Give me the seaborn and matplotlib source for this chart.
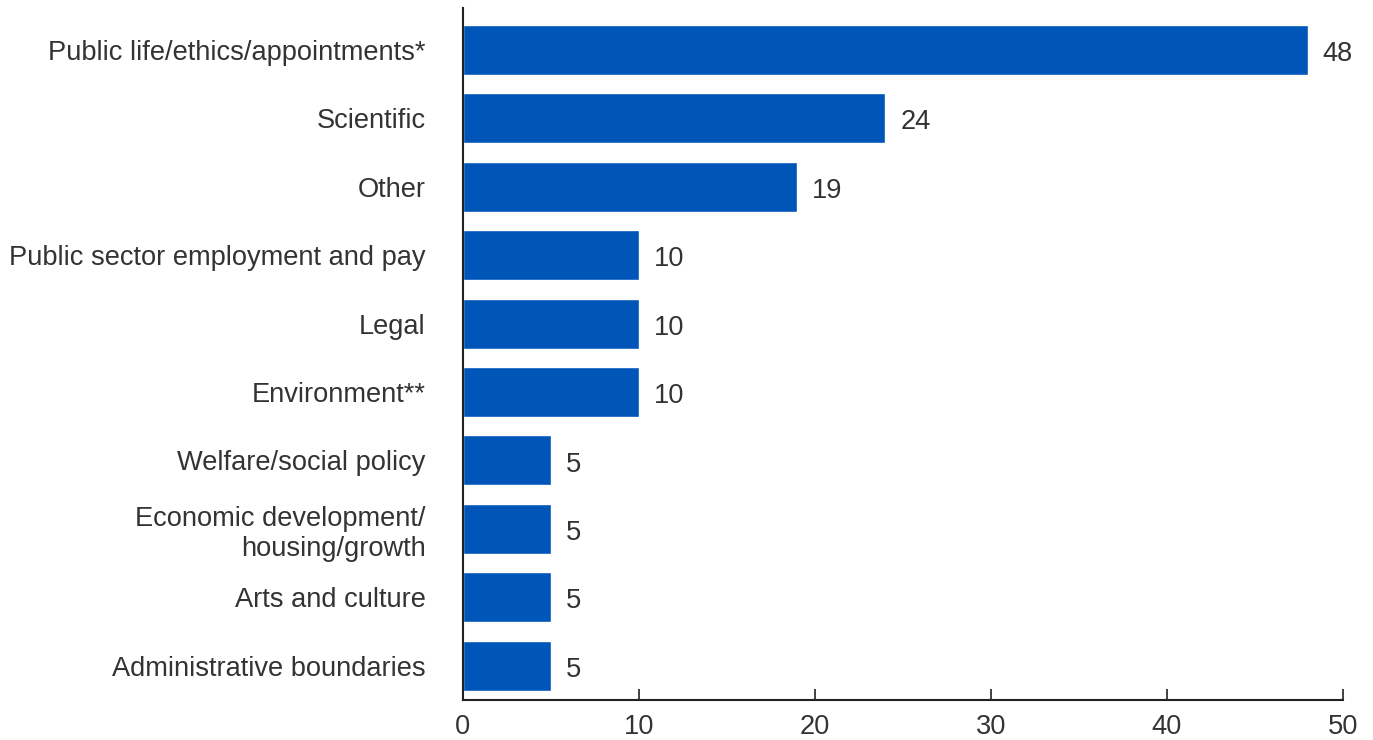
import matplotlib
matplotlib.use("Agg")
import matplotlib.pyplot as plt
import seaborn as sns
import pandas as pd

# data
categories = [
    "Public life/ethics/appointments*",
    "Scientific",
    "Other",
    "Public sector employment and pay",
    "Legal",
    "Environment**",
    "Welfare/social policy",
    "Economic development/\nhousing/growth",
    "Arts and culture",
    "Administrative boundaries",
]
values = [48, 24, 19, 10, 10, 10, 5, 5, 5, 5]
x_ticks = [0, 10, 20, 30, 40, 50]

df = pd.DataFrame({"category": categories, "value": values})

sns.set_style("white")
plt.rcParams["font.family"] = ["Liberation Sans", "DejaVu Sans"]
text_col = "#333333"
fs = 19.6

fig = plt.figure(figsize=(13.73, 7.40), dpi=100)
ax = fig.add_axes([463 / 1373, 40 / 740, 880 / 1373, 692 / 740])

sns.barplot(data=df, y="category", x="value", orient="h", color="#0055B8",
            saturation=1, width=0.73, ax=ax)

for i, v in enumerate(values):
    ax.text(v + 0.85, i + 0.06, str(v), va="center", ha="left",
            fontsize=fs, color=text_col)

ax.set_xlim(0, 50)
ax.set_ylim(9.5, -0.61)
ax.set_xticks(x_ticks)
ax.set_xlabel("")
ax.set_ylabel("")
for s in ["top", "right"]:
    ax.spines[s].set_visible(False)
for s in ["left", "bottom"]:
    ax.spines[s].set_color("#222222")
    ax.spines[s].set_linewidth(1.5)
ax.tick_params(axis="x", bottom=True, direction="in", length=8, width=1.2,
               color="#222222", labelsize=fs, labelcolor=text_col, pad=10)
ax.tick_params(axis="y", left=False, length=0, labelsize=fs,
               labelcolor=text_col, pad=27)
for lbl in ax.get_yticklabels():
    lbl.set_horizontalalignment("right")

fig.savefig("out.png", dpi=100)
